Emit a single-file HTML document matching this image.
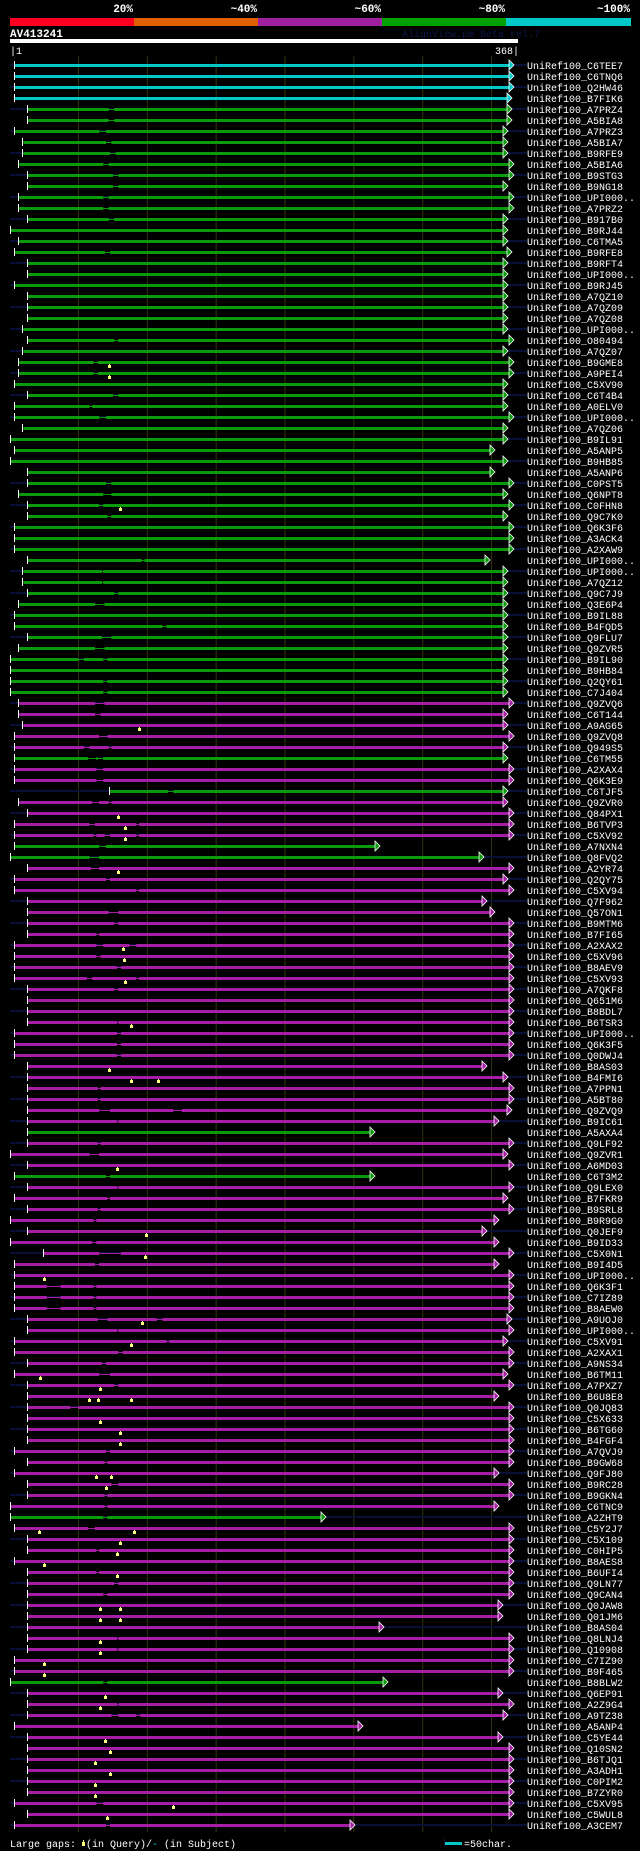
<!DOCTYPE html>
<html><head><meta charset="utf-8">
<style>
html,body{margin:0;padding:0;background:#000;}
svg{display:block;}
text{font-family:"Liberation Mono",monospace;}
</style></head>
<body>
<svg id="chart" width="640" height="1851" viewBox="0 0 640 1851" xmlns="http://www.w3.org/2000/svg">
<rect x="0" y="0" width="640" height="1851" fill="#000"/>
<g>
<text x="133" y="12" fill="#fff" font-size="11" font-weight="bold" text-anchor="end">20%</text>
<text x="257" y="12" fill="#fff" font-size="11" font-weight="bold" text-anchor="end">~40%</text>
<text x="381" y="12" fill="#fff" font-size="11" font-weight="bold" text-anchor="end">~60%</text>
<text x="505" y="12" fill="#fff" font-size="11" font-weight="bold" text-anchor="end">~80%</text>
<text x="630" y="12" fill="#fff" font-size="11" font-weight="bold" text-anchor="end">~100%</text>
<rect x="10" y="18" width="124" height="8" fill="#ff0022"/>
<rect x="134" y="18" width="124" height="8" fill="#e06000"/>
<rect x="258" y="18" width="124" height="8" fill="#a020a0"/>
<rect x="382" y="18" width="124" height="8" fill="#00a000"/>
<rect x="506" y="18" width="125" height="8" fill="#00c8c8"/>
</g>
<text x="10" y="37" fill="#fff" font-size="11" font-weight="bold">AV413241</text>
<text x="402" y="37" fill="#101848" font-size="10">AlignView.pm Beta rel.7</text>
<rect x="10" y="39" width="508" height="4" fill="#fff"/>
<text x="10" y="54" fill="#fff" font-size="10">|1</text>
<text x="519" y="54" fill="#fff" font-size="10" text-anchor="end">368|</text>
<g id="grid"></g>
<g id="rows"></g>
<g>
<text x="10" y="1847" fill="#fff" font-size="10">Large gaps:</text>
<rect x="82" y="1842" width="3" height="4" fill="#ffff80"/>
<rect x="83" y="1840" width="1" height="2" fill="#ffff80"/>
<text x="86" y="1847" fill="#fff" font-size="10">(in Query)/</text>
<text x="152" y="1847" fill="#00c8c8" font-size="10">-</text>
<text x="164" y="1847" fill="#fff" font-size="10">(in Subject)</text>
<rect x="445" y="1842" width="17" height="3" fill="#00c8c8"/>
<rect x="444" y="1838" width="1" height="9" fill="#0a0f38"/>
<text x="464" y="1847" fill="#fff" font-size="10">=50char.</text>
</g>
</svg>
<script>
const labels = ["C6TEE7","C6TNQ6","Q2HW46","B7FIK6","A7PRZ4","A5BIA8","A7PRZ3","A5BIA7","B9RFE9","A5BIA6","B9STG3","B9NG18","UPI000..","A7PRZ2","B917B0","B9RJ44","C6TMA5","B9RFE8","B9RFT4","UPI000..","B9RJ45","A7QZ10","A7QZ09","A7QZ08","UPI000..","O80494","A7QZ07","B9GME8","A9PEI4","C5XV90","C6T4B4","A0ELV0","UPI000..","A7QZ06","B9IL91","A5ANP5","B9HB85","A5ANP6","C0PST5","Q6NPT8","C0FHN8","Q9C7K0","Q6K3F6","A3ACK4","A2XAW9","UPI000..","UPI000..","A7QZ12","Q9C7J9","Q3E6P4","B9IL88","B4FQD5","Q9FLU7","Q9ZVR5","B9IL90","B9HB84","Q2QY61","C7J404","Q9ZVQ6","C6T144","A9AG65","Q9ZVQ8","Q949S5","C6TM55","A2XAX4","Q6K3E9","C6TJF5","Q9ZVR0","Q84PX1","B6TVP3","C5XV92","A7NXN4","Q8FVQ2","A2YR74","Q2QY75","C5XV94","Q7F962","Q57ON1","B9MTM6","B7FI65","A2XAX2","C5XV96","B8AEV9","C5XV93","A7QKF8","Q651M6","B8BDL7","B6TSR3","UPI000..","Q6K3F5","Q0DWJ4","B8AS03","B4FMI6","A7PPN1","A5BT80","Q9ZVQ9","B9IC61","A5AXA4","Q9LF92","Q9ZVR1","A6MD03","C6T3M2","Q9LEX0","B7FKR9","B9SRL8","B9R9G0","Q0JEF9","B9ID33","C5X0N1","B9I4D5","UPI000..","Q6K3F1","C7IZ89","B8AEW0","A9UOJ0","UPI000..","C5XV91","A2XAX1","A9NS34","B6TM11","A7PXZ7","B6U8E8","Q0JQ83","C5X633","B6TG60","B4FGF4","A7QVJ9","B9GW68","Q9FJ80","B9RC28","B9GKN4","C6TNC9","A2ZHT9","C5Y2J7","C5X109","C0HIP5","B8AES8","B6UFI4","Q9LN77","Q9CAN4","Q0JAW8","Q01JM6","B8AS04","Q8LNJ4","Q10908","C7IZ90","B9F465","B8BLW2","Q6EP91","A2Z9G4","A9TZ38","A5ANP4","C5YE44","Q10SN2","B6TJQ1","A3ADH1","C0PIM2","B7ZYR0","C5XV95","C5WUL8","A3CEM7"];
const identity = "ccccgggggg" + "gggggggggg" + "gggggggggg" + "gggggggggg" + "gggggggggg" +
  "ggggggggmm" + "mmmgmmgmmm" + "mggmmmmmmm" + "mmmmmmmmmm" + "mmmmmmmgmm" +
  "mgmmmmmmmm" + "mmmmmmmmmm" + "mmmmmmmmmm" + "mmgmmmmmmm" + "mmmmmmmgmm" +
  "mmmmmmmmmm" + "m";
const starts = [4,4,4,4,13,13,4,10,10,7,13,13,7,7,13,1,7,4,13,13,4,13,13,13,10,13,10,7,7,4,13,4,4,10,1,4,1,13,13,7,13,13,4,4,4,13,10,10,13,7,4,4,13,7,1,1,1,1,7,7,10,4,4,4,4,4,73,7,13,4,4,4,1,13,4,4,13,13,13,13,4,4,4,4,13,13,13,13,4,4,4,13,13,13,13,13,13,13,13,1,13,4,13,4,13,1,13,1,25,4,4,4,4,4,13,13,4,4,13,4,13,13,13,13,13,13,4,13,4,13,13,1,1,4,13,13,4,13,13,13,13,13,13,13,13,4,4,1,13,13,13,4,13,13,13,13,13,13,4,13,4];
const ends = [363,363,363,361,361,361,358,358,358,363,363,358,363,363,358,358,358,361,358,358,358,358,358,358,358,363,358,363,363,358,358,358,363,358,358,349,358,349,363,358,363,358,363,363,363,345,358,358,358,358,358,358,358,358,358,358,358,358,363,358,358,363,358,358,363,363,358,358,363,363,363,265,341,363,358,363,343,349,363,363,363,363,363,363,363,363,363,363,363,363,363,343,358,363,363,361,352,262,363,358,363,262,363,358,363,352,343,352,363,352,363,363,363,363,361,363,358,363,363,358,363,352,363,363,363,363,363,363,352,363,363,352,226,363,363,363,363,363,363,363,355,355,268,363,363,363,363,271,355,363,358,253,355,363,363,363,363,363,363,363,247];
const gaps = {4:[[72,76]],5:[[72,76]],6:[[65,70]],7:[[70,74]],8:[[73,77]],9:[[68,72]],10:[[75,79]],11:[[75,79]],12:[[68,72]],13:[[68,72]],14:[[72,76]],17:[[69,73]],25:[[76,79]],27:[[61,64]],28:[[61,64]],30:[[75,79]],31:[[58,60]],32:[[65,70]],38:[[70,74]],39:[[68,74]],40:[[65,68]],41:[[71,74]],45:[[96,98]],46:[[67,68]],47:[[67,68]],48:[[76,79]],49:[[62,69]],51:[[111,114]],52:[[67,74]],53:[[62,69]],54:[[50,54],[68,71]],56:[[68,71]],57:[[68,71]],58:[[62,69]],59:[[62,66]],61:[[65,71]],62:[[54,58],[72,74]],63:[[57,63],[64,68]],64:[[63,68]],65:[[63,68]],66:[[115,119]],67:[[60,65],[72,74]],69:[[58,62],[92,94]],70:[[61,63],[69,73],[92,94]],71:[[65,70]],72:[[58,65]],73:[[59,65]],74:[[70,73]],75:[[92,94]],77:[[72,79]],78:[[76,79]],79:[[63,65]],80:[[63,68],[87,92]],81:[[63,66]],82:[[78,81]],83:[[56,60],[92,94]],84:[[76,79]],87:[[78,79]],88:[[78,81]],89:[[78,81]],90:[[78,81]],93:[[64,66]],94:[[64,66]],95:[[65,73],[119,125]],96:[[78,79]],98:[[64,66]],99:[[58,65]],101:[[70,73]],102:[[78,79]],103:[[71,73]],104:[[64,66]],105:[[61,63]],107:[[60,63]],108:[[65,81]],109:[[62,65]],111:[[27,37],[61,63]],112:[[27,37],[61,63]],113:[[27,37],[61,63]],114:[[64,71],[107,111]],115:[[78,79]],116:[[114,116]],117:[[79,82]],118:[[67,70]],119:[[65,73]],120:[[76,79]],122:[[44,50]],126:[[70,73]],127:[[69,71]],129:[[74,79]],130:[[69,71]],131:[[69,71]],132:[[68,71]],133:[[57,62]],135:[[63,65]],137:[[63,65]],138:[[76,79]],139:[[68,71]],143:[[78,79]],144:[[78,79]],147:[[68,71]],149:[[78,79]],150:[[74,79],[92,95]],158:[[63,68]],160:[[70,73]]};
const queryGaps = {27:[72],28:[72],40:[80],60:[94],68:[79],69:[84],70:[84],73:[79],80:[82],81:[83],83:[84],87:[88],91:[72],92:[88,108],100:[78],106:[99],108:[98],110:[25],114:[96],116:[88],119:[22],120:[66],121:[58,64,88],123:[66],124:[80],125:[80],128:[63,74],129:[70],133:[21,90],134:[80],135:[78],136:[25],137:[78],140:[66,80],141:[66,80],143:[66],144:[66],145:[25],146:[25],148:[69],149:[66],152:[69],153:[73],154:[62],155:[73],156:[62],157:[62],158:[119],159:[71]};
const gridTicks = [50,100,150,200,250,300,350];

const NS = "http://www.w3.org/2000/svg";
const COLORS = {c:"#00c8c8", g:"#0a9a0a", m:"#a61ea6"};
function xScale(p){ return 9.6 + p*1.377; }
function yRow(i){ return 65.3 + i*11; }
function mk(tag, attrs, parent){
  const e = document.createElementNS(NS, tag);
  for (const k in attrs) e.setAttribute(k, attrs[k]);
  parent.appendChild(e);
  return e;
}
const grid = document.getElementById('grid');
gridTicks.forEach(t => {
  const l = mk('line', {x1:xScale(t), x2:xScale(t), y1:56, y2:1832, stroke:'#34340c', 'stroke-width':1}, grid);
  
  
});
const rowsG = document.getElementById('rows');
labels.forEach((lab, i) => {
  const y = Math.round(yRow(i));
  const col = COLORS[identity[i]];
  const g = mk('g', {}, rowsG);
  
  
  if (i % 2 === 0) {
    const bg = mk('rect', {x:10, y:y-1, width:517, height:2, fill:'#0a0f38'}, g);
    
    
  }
  const x0 = xScale(starts[i]), x1 = xScale(ends[i]);
  const thin = mk('rect', {x:x0, y:y, width:x1-x0, height:1, fill:col}, g);
  
  
  const gl = gaps[i] || [];
  let cur = starts[i];
  const segs = [];
  gl.forEach(gp => { segs.push([cur, gp[0]]); cur = gp[1]; });
  segs.push([cur, ends[i]]);
  segs.forEach(s => {
    const a = xScale(s[0]), b = xScale(s[1]);
    const r = mk('rect', {x:a, y:y-1, width:Math.max(0,b-a), height:3, fill:col}, g);
    
    
  });
  const tick = mk('rect', {x:Math.round(x0)-1, y:y-4, width:1, height:8, fill:'#fff'}, g);
  
  
  const ax = Math.round(x1);
  const tri = mk('polygon', {points:`${ax},${y-5} ${ax+5},${y} ${ax},${y+5}`, fill:col, stroke:'#fff', 'stroke-width':0.8}, g);
  
  
  (queryGaps[i] || []).forEach(q => {
    const qx = Math.round(xScale(q));
    const m = mk('rect', {x:qx-1, y:y+3, width:3, height:3, fill:'#ffff80'}, g);
    
    
    const st = mk('rect', {x:qx, y:y+2, width:1, height:1, fill:'#ffff80'}, g);
    
    
  });
  const t = mk('text', {x:527, y:y+4, fill:'#fff', 'font-size':10}, g);
  t.textContent = 'UniRef100_' + lab;
  
  
});
</script>
</body></html>
